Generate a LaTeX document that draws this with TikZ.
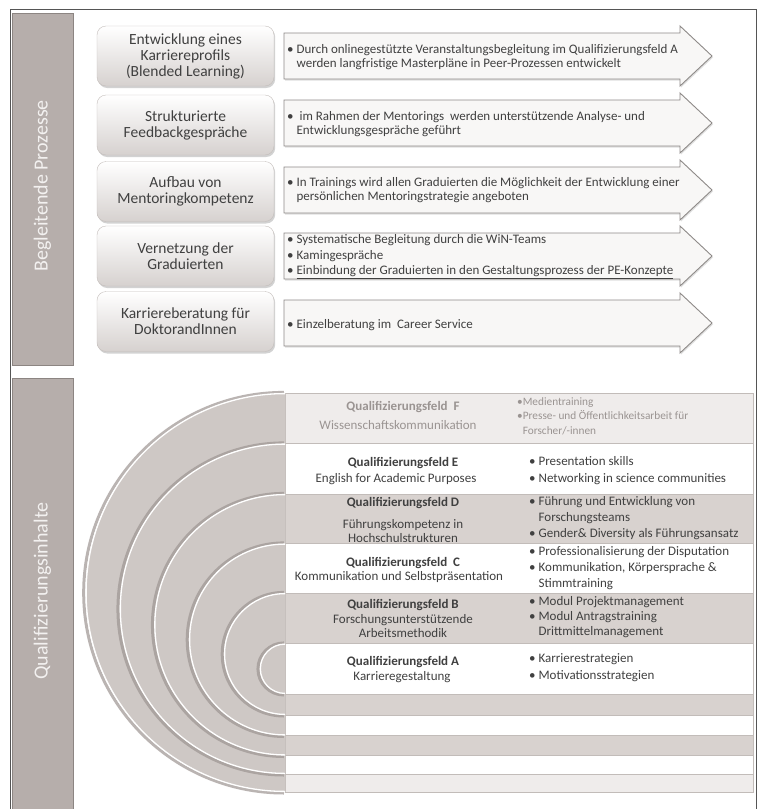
\documentclass[tikz,border=0pt]{standalone}
\usepackage{fontspec}
\setmainfont{Carlito}
\usetikzlibrary{shadows}
\definecolor{txt}{HTML}{404040}
\definecolor{ftxt}{HTML}{9A9492}
\definecolor{barfill}{HTML}{B6AEAB}
\definecolor{baredge}{HTML}{8C8582}
\definecolor{bartxt}{HTML}{F3F1F0}
\definecolor{boxbot}{HTML}{D6D1CF}
\definecolor{boxedge}{HTML}{C4BEBB}
\definecolor{arrfill}{HTML}{F8F7F6}
\definecolor{arredge}{HTML}{8E8A88}
\definecolor{ringfill}{HTML}{CEC8C5}
\definecolor{ringshadow}{HTML}{9D9592}
\definecolor{bandgrey}{HTML}{D8D2CF}
\definecolor{bandlight}{HTML}{EFECEB}
\definecolor{bandedge}{HTML}{C2BCB9}
\definecolor{frame}{HTML}{555555}
\newcommand{\bul}{\textbullet\ }
\newcommand{\ind}{\hphantom{\textbullet\ }}
\tikzset{
  bx/.style={rounded corners=9pt, top color=white, bottom color=boxbot, draw=boxedge, line width=0.4pt,
    drop shadow={opacity=0.35, shadow xshift=1.2pt, shadow yshift=-2pt},
    minimum width=177pt, minimum height=60pt, align=center, text=txt,
    font=\fontsize{15.5}{16}\selectfont},
  arr/.style={fill=arrfill, draw=arredge, line width=0.9pt,
    drop shadow={opacity=0.25, shadow xshift=1pt, shadow yshift=-1.5pt}},
  atext/.style={anchor=west, align=left, text=txt, font=\fontsize{13}{14.5}\selectfont, inner sep=0pt},
  bar/.style={fill=barfill, draw=baredge, line width=0.8pt},
  bartext/.style={rotate=90, text=bartxt, font=\fontsize{20}{22}\selectfont, inner sep=0pt},
  ttl/.style={anchor=center, text=txt, font=\fontsize{13}{14}\selectfont\bfseries, inner sep=0pt},
  sub/.style={anchor=center, align=center, text=txt, font=\fontsize{13}{14}\selectfont, inner sep=0pt},
  blist/.style={anchor=north west, align=left, text=txt, font=\fontsize{13}{16.5}\selectfont, inner sep=0pt},
  band/.style={draw=bandedge, line width=0.5pt},
}
\begin{document}
\begin{tikzpicture}[x=1pt,y=-1pt]
\useasboundingbox (0,0) rectangle (764,809);
\fill[white] (0,0) rectangle (764,809);
% frame
\draw[frame, line width=0.9pt] (10,809) -- (10,9) -- (756,9) -- (756,809);
% side bars
\draw[bar] (12,13) rectangle (73,365);
\draw[bar] (12,378) rectangle (73,809);
\node[bartext] (lab1) at (42.5,186) {Begleitende Prozesse};
\node[bartext] (lab2) at (42.5,591) {Qualifizierungsinhalte};

% arrows
\foreach \c in {56,123,190,256,323}{
  \draw[arr] (284,\c-23) -- (680,\c-23) -- (680,\c-30) -- (712,\c) -- (680,\c+30) -- (680,\c+23) -- (284,\c+23) -- cycle;
}
% boxes
\node[bx] (b1) at (185.5,56) {Entwicklung eines\\Karriereprofils\\(Blended Learning)};
\node[bx] (b2) at (185.5,125) {Strukturierte\\Feedbackgespräche};
\node[bx] (b3) at (185.5,191.5) {Aufbau von\\Mentoringkompetenz};
\node[bx] (b4) at (185.5,256) {Vernetzung der\\Graduierten};
\node[bx] (b5) at (185.5,321.5) {Karriereberatung für\\DoktorandInnen};
% arrow texts
\node[atext] (a1) at (287,57) {\bul Durch onlinegestützte Veranstaltungsbegleitung im Qualifizierungsfeld A\\\ind werden langfristige Masterpläne in Peer-Prozessen entwickelt};
\node[atext] (a2) at (287,124) {\bul\ im Rahmen der Mentorings\ \ werden unterstützende Analyse- und\\\ind Entwicklungsgespräche geführt};
\node[atext] (a3) at (287,190) {\bul In Trainings wird allen Graduierten die Möglichkeit der Entwicklung einer\\\ind persönlichen Mentoringstrategie angeboten};
\node[atext, font=\fontsize{13}{15.5}\selectfont] (a4) at (287,257) {\bul Systematische Begleitung durch die WiN-Teams\\\bul Kamingespräche\\\bul \underline{Einbindung der Graduierten in den Gestaltungsprozess der PE-Konzepte}};
\node[atext] (a5) at (287,325) {\bul Einzelberatung im\ \ Career Service};

% rings and bands
\foreach \cy/\r/\col in {592.5/199.5/bandlight, 608.75/165.25/white, 624.75/130.75/bandgrey, 639.5/96/white, 654/61/bandgrey, 668.75/25.25/white}{
  \draw[ringshadow, line width=3pt, opacity=0.7] (284,\cy+\r+1) arc[start angle=90, end angle=270, radius=\r+0.8];
  \draw[band, fill=\col] (285,\cy-\r) rectangle (753,\cy+\r);
  \fill[ringfill] (285.4,\cy+\r) arc[start angle=90, end angle=270, radius=\r] -- cycle;
  \draw[white, line width=1.3pt] (285,\cy+\r-0.6) arc[start angle=90, end angle=270, radius=\r-0.6];
}

% row F
\node[ttl, text=ftxt] (tF) at (403,407) {Qualifizierungsfeld\ \ F};
\node[sub, text=ftxt] (sF) at (398,425) {Wissenschaftskommunikation};
\node[blist, text=ftxt, font=\fontsize{11.3}{14.5}\selectfont] (lF) at (517,397) {\textbullet Medientraining\\\textbullet Presse- und Öffentlichkeitsarbeit für\\\hphantom{\textbullet}Forscher/-innen};
% row E
\node[ttl] (tE) at (403,463) {Qualifizierungsfeld E};
\node[sub] (sE) at (396,479) {English for Academic Purposes};
\node[blist, font=\fontsize{13}{17}\selectfont] (lE) at (529,456.5) {\bul Presentation skills\\\bul Networking in science communities};
% row D
\node[ttl] (tD) at (403,503) {Qualifizierungsfeld D};
\node[sub] (sD) at (403,531) {Führungskompetenz in\\Hochschulstrukturen};
\node[blist, font=\fontsize{13}{16}\selectfont] (lD) at (529,496.5) {\bul Führung und Entwicklung von\\\ind Forschungsteams\\\bul Gender\& Diversity als Führungsansatz};
% row C
\node[ttl] (tC) at (403,563) {Qualifizierungsfeld\ \ C};
\node[sub] (sC) at (399,577) {Kommunikation und Selbstpräsentation};
\node[blist, font=\fontsize{13}{16}\selectfont] (lC) at (529,546.5) {\bul Professionalisierung der Disputation\\\bul Kommunikation, Körpersprache \&\\\ind Stimmtraining};
% row B
\node[ttl] (tB) at (403,605) {Qualifizierungsfeld B};
\node[sub] (sB) at (403,626) {Forschungsunterstützende\\Arbeitsmethodik};
\node[blist, font=\fontsize{13}{15}\selectfont] (lB) at (529,596.5) {\bul Modul Projektmanagement\\\bul Modul Antragstraining\\\ind Drittmittelmanagement};
% row A
\node[ttl] (tA) at (403,662) {Qualifizierungsfeld A};
\node[sub] (sA) at (402,677) {Karrieregestaltung};
\node[blist, font=\fontsize{13}{17}\selectfont] (lA) at (529,653.5) {\bul Karrierestrategien\\\bul Motivationsstrategien};
\end{tikzpicture}
\end{document}
